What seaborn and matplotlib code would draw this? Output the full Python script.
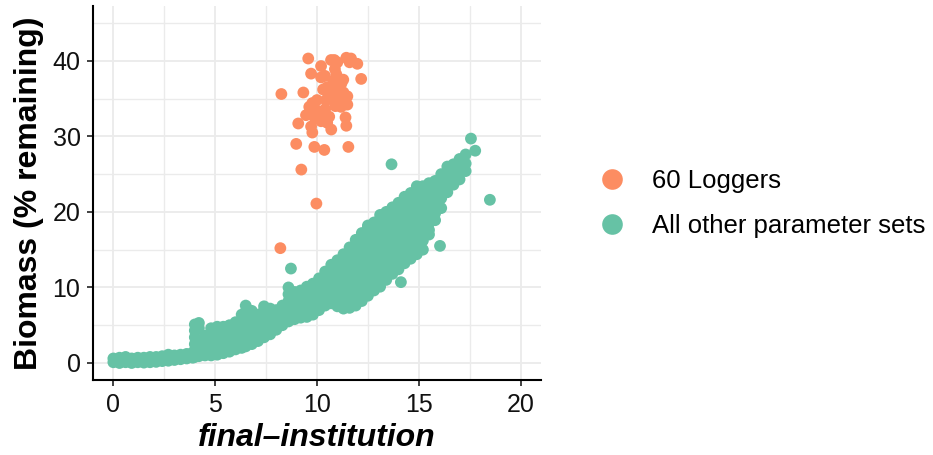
import matplotlib
matplotlib.use("Agg")
import matplotlib.pyplot as plt
from matplotlib.ticker import MultipleLocator
import numpy as np
import pandas as pd
import seaborn as sns

# ---- data -------------------------------------------------------------
group_names = ["60 Loggers", "All other parameter sets"]
group_colors = ["#FC8D62", "#66C2A5"]

loggers_x = [9.57, 10.69, 10.85, 11.44, 11.67, 11.98, 10.88, 9.71, 10.20, 10.39,
             11.29, 12.17, 11.00, 10.50, 8.25, 9.33, 10.93, 11.49, 10.44, 10.85,
             11.18, 9.77, 9.62, 9.95, 11.49, 11.18, 9.46, 10.11, 10.60, 10.20,
             9.08, 9.71, 9.77, 10.70, 11.44, 8.98, 9.87, 10.36, 11.54, 9.23,
             9.97, 8.20, 10.30, 10.60, 10.90, 11.10, 10.00, 10.80, 11.30, 10.40,
             9.90, 11.00, 11.60, 10.20, 10.70, 11.20, 9.60, 10.50, 11.40, 10.95]
loggers_y = [40.3, 40.1, 40.1, 40.4, 40.3, 39.6, 38.9, 38.3, 37.8, 38.0,
             37.5, 37.6, 36.9, 36.5, 35.6, 35.8, 35.9, 35.3, 34.8, 35.1,
             34.6, 34.4, 33.9, 33.5, 34.2, 33.9, 32.8, 33.1, 32.6, 32.0,
             31.7, 31.3, 30.5, 30.9, 31.4, 29.0, 28.6, 28.2, 28.6, 25.6,
             21.1, 15.2, 36.2, 35.5, 34.0, 36.0, 34.8, 37.3, 35.8, 33.6,
             32.4, 39.8, 39.8, 39.3, 34.9, 37.0, 33.0, 31.8, 32.5, 38.2]

# other parameter sets, listed as (institution, [biomass values]) columns
others_tail = [
    (0.0, [0.1, 0.6]), (0.1, [0.3]), (0.3, [0.0, 0.7]), (0.6, [0.1, 0.8]),
    (0.9, [0.0, 0.6]), (1.2, [0.1, 0.7]), (1.5, [0.05, 0.7]), (1.8, [0.1, 0.8]),
    (2.1, [0.15, 0.8]), (2.4, [0.25, 0.9]), (2.7, [0.3, 1.1]), (3.0, [0.4, 1.0]),
    (3.3, [0.5, 1.1]), (3.6, [0.6, 1.2]), (3.9, [0.7, 1.4]),
]
others_rise = [
    (4.0, [0.8, 1.6, 2.5, 3.4, 4.3, 5.1]), (4.2, [0.9, 1.8, 2.9, 4.6, 5.3]),
    (4.5, [1.0, 1.9, 2.8, 3.6]), (4.8, [1.0, 1.9, 2.8, 3.7, 4.6]),
    (5.1, [1.1, 2.0, 2.9, 3.8, 4.8]), (5.4, [1.3, 2.2, 3.1, 4.0, 4.8]),
    (5.7, [1.5, 2.4, 3.3, 4.2, 5.0]), (6.0, [1.8, 2.7, 3.6, 4.5, 5.4]),
    (6.3, [2.0, 2.9, 3.8, 4.7, 5.6, 6.4]), (6.5, [2.2, 3.6, 5.0, 6.8, 7.6]),
    (6.8, [2.5, 3.4, 4.3, 5.2, 6.1, 6.9]), (7.1, [2.9, 3.8, 4.7, 5.6, 6.4]),
    (7.4, [3.4, 4.3, 5.2, 6.1, 7.0, 7.5]), (7.7, [3.8, 4.7, 5.6, 6.5, 7.2]),
    (8.0, [4.4, 5.3, 6.2, 7.0]), (8.3, [5.0, 5.9, 6.8, 7.6]),
    (8.6, [5.5, 6.4, 7.3, 8.2, 9.1, 10.0]), (8.72, [12.5]),
    (8.9, [5.8, 6.7, 7.6, 8.5, 9.4]), (9.2, [6.0, 6.9, 7.8, 8.7, 9.6]),
    (9.5, [6.1, 7.0, 7.9, 8.8, 9.7, 10.1]), (9.8, [6.4, 7.3, 8.2, 9.1, 10.0, 10.5]),
]
others_core = [
    (10.1, [7.0, 7.9, 8.8, 9.7, 10.6, 11.2]),
    (10.4, [7.6, 8.5, 9.4, 10.3, 11.2, 12.1]),
    (10.7, [7.9, 8.8, 9.7, 10.6, 11.5, 12.4, 13.0]),
    (11.0, [7.5, 8.4, 9.3, 10.2, 11.1, 12.0, 12.9, 13.6]),
    (11.3, [7.2, 8.1, 9.0, 9.9, 10.8, 11.7, 12.6, 13.5, 14.4]),
    (11.6, [7.3, 8.4, 9.3, 10.2, 11.1, 12.0, 12.9, 13.8, 14.7, 15.3]),
    (11.9, [7.6, 8.5, 9.4, 10.3, 11.2, 12.1, 13.0, 13.9, 14.8, 15.7, 16.3]),
    (12.2, [8.2, 9.1, 10.0, 10.9, 11.8, 12.7, 13.6, 14.5, 15.4, 16.3, 17.2]),
    (12.5, [8.9, 9.8, 10.7, 11.6, 12.5, 13.4, 14.3, 15.2, 16.1, 17.0, 17.9, 18.2]),
    (12.8, [9.6, 10.5, 11.4, 12.3, 13.2, 14.1, 15.0, 15.9, 16.8, 17.7, 18.6]),
    (13.1, [10.1, 11.0, 11.9, 12.8, 13.7, 14.6, 15.5, 16.4, 17.3, 18.2, 19.1, 19.6]),
    (13.4, [11.0, 11.9, 12.8, 13.7, 14.6, 15.5, 16.4, 17.3, 18.2, 19.1, 20.0]),
    (13.66, [26.3]),
    (13.7, [11.8, 12.7, 13.6, 14.5, 15.4, 16.3, 17.2, 18.1, 19.0, 19.9, 20.6]),
    (14.0, [12.4, 13.3, 14.2, 15.1, 16.0, 16.9, 17.8, 18.7, 19.6, 20.5, 21.2]),
    (14.12, [10.7]),
]
others_top = [
    (14.3, [13.2, 14.1, 15.0, 15.9, 16.8, 17.7, 18.6, 19.5, 20.4, 21.3, 22.0]),
    (14.6, [13.8, 14.7, 15.6, 16.5, 17.4, 18.3, 19.2, 20.1, 21.0, 21.9, 22.5]),
    (14.9, [14.4, 15.5, 16.4, 17.3, 18.2, 19.1, 20.0, 20.9, 21.8, 22.7, 23.4]),
    (15.2, [15.0, 16.2, 17.1, 18.0, 18.9, 19.8, 20.7, 21.6, 22.5, 23.4]),
    (15.5, [17.0, 17.6, 18.5, 19.4, 20.3, 21.2, 22.1, 23.0, 23.8]),
    (15.8, [18.9, 19.8, 20.7, 21.6, 22.5, 23.4, 24.1]),
    (16.04, [15.5]),
    (16.1, [20.5, 21.8, 22.7, 23.6, 24.4, 25.0]),
    (16.4, [22.6, 23.5, 24.4, 25.3, 26.0]),
    (16.7, [23.6, 24.5, 25.4, 26.3]),
    (17.0, [24.3, 25.2, 26.1, 27.0]),
    (17.3, [25.4, 26.4, 27.6]),
    (17.56, [29.7]), (17.77, [28.1]), (18.49, [21.6]),
]

x_ticks = [0, 5, 10, 15, 20]
y_ticks = [0, 10, 20, 30, 40]

# ---- assemble long table ------------------------------------------------
rows = []
for block in (others_tail, others_rise, others_core, others_top):
    for xv, ys in block:
        for yv in ys:
            rows.append((xv, yv, group_names[1]))
for xv, yv in zip(loggers_x, loggers_y):
    rows.append((xv, yv, group_names[0]))
df = pd.DataFrame(rows, columns=["institution", "biomass", "group"])

# ---- styling ------------------------------------------------------------
sns.set_theme(style="whitegrid")
plt.rcParams["font.family"] = ["Liberation Sans", "DejaVu Sans"]
plt.rcParams["axes.unicode_minus"] = True

fig = plt.figure(figsize=(9.33, 4.55), dpi=100)
ax = fig.add_axes([93 / 933, 1 - 380 / 455, (541 - 93) / 933, (380 - 6) / 455])

sns.scatterplot(
    data=df, x="institution", y="biomass", hue="group",
    hue_order=group_names, palette=group_colors,
    s=72, linewidth=0, alpha=1.0, ax=ax, legend=True, zorder=3,
)

ax.set_xlim(-1, 21)
ax.set_ylim(-2.25, 47.25)
ax.set_xticks(x_ticks)
ax.set_yticks(y_ticks)
ax.xaxis.set_minor_locator(MultipleLocator(2.5))
ax.yaxis.set_minor_locator(MultipleLocator(5))
ax.set_facecolor("white")
ax.grid(which="major", color="#EBEBEB", linewidth=1.3, zorder=0)
ax.grid(which="minor", color="#EBEBEB", linewidth=1.0, zorder=0)
ax.set_axisbelow(True)

for side in ("top", "right"):
    ax.spines[side].set_visible(False)
for side in ("left", "bottom"):
    ax.spines[side].set_visible(True)
    ax.spines[side].set_color("black")
    ax.spines[side].set_linewidth(1.5)

ax.tick_params(axis="both", which="major", direction="out", length=4,
               width=1.3, color="#333333", labelsize=18, labelcolor="#111111",
               pad=5, bottom=True, left=True)
ax.tick_params(axis="both", which="minor", length=0)

ax.set_xlabel("final\u2013institution", fontsize=23, fontweight="bold",
              fontstyle="italic", labelpad=5, color="black")
ax.set_ylabel("Biomass (% remaining)", fontsize=23, fontweight="bold",
              labelpad=6, color="black")

sns.move_legend(ax, "center left", bbox_to_anchor=(1.05, 0.472), frameon=False,
                title=None, fontsize=18.5, markerscale=1.75, handletextpad=0.55,
                labelspacing=0.85)
for txt in ax.get_legend().get_texts():
    txt.set_color("black")

fig.savefig("out.png", dpi=100, facecolor="white")
